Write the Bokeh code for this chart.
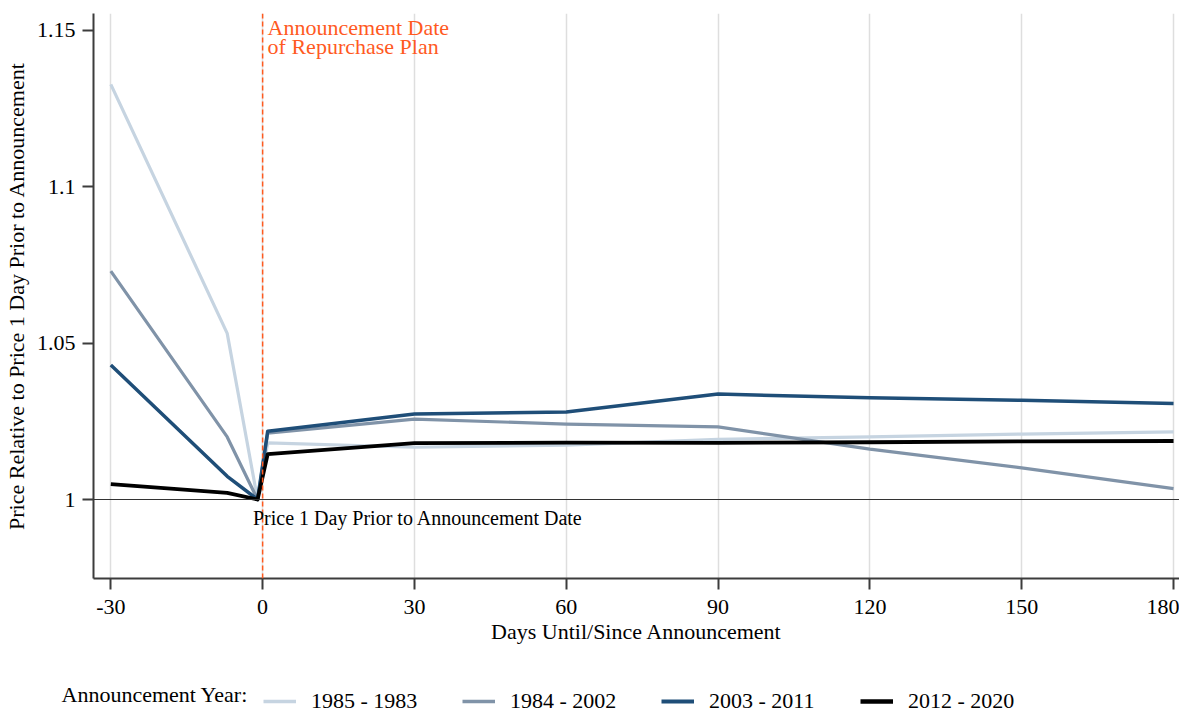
from bokeh.plotting import figure
from bokeh.models import Range1d, FixedTicker, Span, Label, Legend, LegendItem
from bokeh.layouts import column
from bokeh.embed import file_html
from bokeh.resources import INLINE

# ---------------- data ----------------
days = [-30, -7, -1, 1, 30, 60, 90, 120, 150, 180]
s_1985_1983 = [1.1327, 1.0531, 1.0, 1.0181, 1.0167, 1.0174, 1.0192, 1.0200, 1.0209, 1.0216]
s_1984_2002 = [1.0730, 1.0200, 1.0, 1.0212, 1.0257, 1.0241, 1.0232, 1.0161, 1.0101, 1.0035]
s_2003_2011 = [1.0430, 1.0074, 1.0, 1.0218, 1.0273, 1.0280, 1.0337, 1.0325, 1.0317, 1.0307]
s_2012_2020 = [1.0049, 1.0021, 1.0, 1.0145, 1.0180, 1.0182, 1.0181, 1.0183, 1.0186, 1.0187]
series_labels = ["1985 - 1983", "1984 - 2002", "2003 - 2011", "2012 - 2020"]
x_ticks = [-30, 0, 30, 60, 90, 120, 150, 180]
x_tick_labels = ["-30", "0", "30", "60", "90", "120", "150", "180"]
y_ticks = [1.0, 1.05, 1.1, 1.15]
y_tick_labels = ["1", "1.05", "1.1", "1.15"]

# ---------------- style ----------------
FONT = "Liberation Serif"
ORANGE = "#ff5a1f"
AXIS_C = "#3c3c3c"
colors = ["#c6d4e1", "#8093a8", "#1f4e78", "#000000"]
widths = [3.2, 3.2, 3.5, 3.8]
series = [s_1985_1983, s_1984_2002, s_2003_2011, s_2012_2020]

p = figure(width=1179, height=660, title=None,
           x_range=Range1d(-33.42, 181.18), y_range=Range1d(0.97475, 1.15534),
           output_backend="svg", toolbar_location=None,
           min_border_left=86, min_border_right=0, min_border_top=13, min_border_bottom=82)
p.outline_line_color = None
p.background_fill_color = "white"

# grid
p.ygrid.visible = False
p.xgrid.ticker = FixedTicker(ticks=x_ticks)
p.xgrid.grid_line_color = "#dedede"
p.xgrid.grid_line_width = 1.5

# axes
p.xaxis.ticker = FixedTicker(ticks=x_ticks)
p.xaxis.major_label_overrides = {t: s for t, s in zip(x_ticks, x_tick_labels)}
p.yaxis.ticker = FixedTicker(ticks=y_ticks)
p.yaxis.major_label_overrides = {t: s for t, s in zip(y_ticks, y_tick_labels)}
p.xaxis.axis_label = "Days Until/Since Announcement"
p.yaxis.axis_label = "Price Relative to Price 1 Day Prior to Announcement"
for ax in (p.xaxis[0], p.yaxis[0]):
    ax.axis_line_color = AXIS_C
    ax.axis_line_width = 2
    ax.major_tick_line_color = AXIS_C
    ax.major_tick_line_width = 2
    ax.major_tick_out = 11
    ax.major_tick_in = 0
    ax.minor_tick_line_color = None
    ax.major_label_text_font = FONT
    ax.major_label_text_font_size = "22px"
    ax.major_label_text_color = "black"
    ax.axis_label_text_font = FONT
    ax.axis_label_text_font_size = "22px"
    ax.axis_label_text_font_style = "normal"
    ax.axis_label_text_color = "black"
p.yaxis.major_label_standoff = 7
p.xaxis.major_label_standoff = 10
p.xaxis.axis_label_standoff = 2
p.yaxis.axis_label_standoff = 5

# reference lines
p.add_layout(Span(location=1, dimension="width", line_color="#333333", line_width=1.2))

# series
for ys, c, w in zip(series, colors, widths):
    p.line(days, ys, line_color=c, line_width=w, line_join="round")

p.add_layout(Span(location=0, dimension="height", line_color=ORANGE,
                  line_width=1.5, line_dash="5 3"))

# annotations
p.add_layout(Label(x=0, y=1.15086, x_offset=5, text="Announcement Date",
                   text_font=FONT, text_font_size="22px", text_color=ORANGE,
                   text_baseline="alphabetic"))
p.add_layout(Label(x=0, y=1.14466, x_offset=5, text="of Repurchase Plan",
                   text_font=FONT, text_font_size="22px", text_color=ORANGE,
                   text_baseline="alphabetic"))
p.add_layout(Label(x=-1.92, y=0.99393, text="Price 1 Day Prior to Announcement Date",
                   text_font=FONT, text_font_size="20px", text_color="black",
                   text_baseline="alphabetic"))

# ---------------- legend strip ----------------
p2 = figure(width=1179, height=53, title=None,
            x_range=Range1d(0, 1179), y_range=Range1d(0, 53),
            x_axis_type=None, y_axis_type=None,
            output_backend="svg", toolbar_location=None, min_border=0)
p2.outline_line_color = None
p2.frame_align = False

items = []
for lab, ys, c, w in zip(series_labels, series, colors, widths):
    r = p2.line(days, ys, line_color=c, line_width=w + 0.5, visible=False)
    items.append(LegendItem(label=lab, renderers=[r]))

leg = Legend(items=items, orientation="horizontal", location=(263, -1),
             glyph_width=33, glyph_height=22, label_height=22, label_standoff=15,
             label_width=107, spacing=44, padding=0, margin=0,
             border_line_color=None, background_fill_alpha=0,
             inactive_fill_alpha=0,
             label_text_font=FONT, label_text_font_size="22px", label_text_color="black")
p2.add_layout(leg, "center")
p2.add_layout(Label(x=61, y=19.5, text="Announcement Year:", text_font=FONT,
                    text_font_size="22px", text_color="black", text_baseline="alphabetic"))

layout = column(p, p2)
open("out.html", "w").write(file_html(layout, INLINE))
